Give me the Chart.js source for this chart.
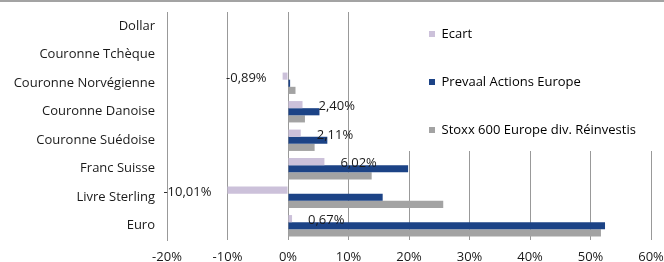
<!DOCTYPE html>
<html>
<head>
<meta charset="utf-8">
<script src="https://cdn.jsdelivr.net/npm/chart.js@4.4.0/dist/chart.umd.min.js"></script>
<style>
html, body { margin: 0; padding: 0; background: #fff; }
#wrap { position: relative; width: 664px; height: 262px; }
#topline { position: absolute; left: 0; top: 0; width: 664px; height: 2px; background: #a3a3a3; }
</style>
</head>
<body>
<div id="wrap">
    <canvas id="myChart" width="664" height="262"></canvas>
    <div id="topline"></div>
</div>
<script>
// donnees (en %)
var devises = ["Dollar", "Couronne Tchèque", "Couronne Norvégienne", "Couronne Danoise",
    "Couronne Suédoise", "Franc Suisse", "Livre Sterling", "Euro"];
var nomsSeries = ["Ecart", "Prevaal Actions Europe", "Stoxx 600 Europe div. Réinvestis"];
var ecart = [null, null, -0.89, 2.40, 2.11, 6.02, -10.01, 0.67];
var prevaal = [null, null, 0.35, 5.2, 6.5, 19.85, 15.65, 52.4];
var stoxx = [null, null, 1.24, 2.8, 4.4, 13.83, 25.66, 51.73];
var xTicks = [-20, -10, 0, 10, 20, 30, 40, 50, 60];
var xTickLabels = ["-20%", "-10%", "0%", "10%", "20%", "30%", "40%", "50%", "60%"];

var police = "'Open Sans', sans-serif";
var taille = 13;
var gris = "#999";

function formatPct(v) {
    return v.toFixed(2).replace(".", ",") + "%";
}

// legende posee dans la zone du graphique, avec fond blanc
var legendeEtEtiquettes = {
    id: "legendeEtEtiquettes",
    afterLayout: function (chart) {
        var lg = chart.legend;
        lg.left = 394;
        lg.top = -7.5;
        lg.right = 664;
        lg.bottom = 200;
    },
    beforeDatasetsDraw: function (chart) {
        var ctx = chart.ctx;
        ctx.save();
        ctx.fillStyle = "#fff";
        ctx.fillRect(375, chart.chartArea.top - 1, 664 - 375, 152 - chart.chartArea.top);
        ctx.restore();
        chart.legend.draw();
    },
    afterDatasetsDraw: function (chart) {
        var ctx = chart.ctx;
        var meta = chart.getDatasetMeta(0);
        ctx.save();
        ctx.font = taille + "px " + police;
        ctx.fillStyle = "#1a1a1a";
        ctx.textBaseline = "middle";
        meta.data.forEach(function (bar, i) {
            var v = ecart[i];
            if (v === null) return;
            if (v >= 0) {
                ctx.textAlign = "left";
                ctx.fillText(formatPct(v), bar.x + 16, bar.y + 2);
            } else {
                ctx.textAlign = "right";
                ctx.fillText(formatPct(v), bar.x - 16, bar.y + 2);
            }
        });
        ctx.restore();
    }
};

document.addEventListener("DOMContentLoaded", iniciar);

function iniciar() {
    var canvas = document.getElementById("myChart");
    if (!canvas) return;

    new Chart(canvas, {
        type: "bar",
        data: {
            labels: devises,
            datasets: [
                { label: nomsSeries[0], data: ecart, backgroundColor: "#ccc1da" },
                { label: nomsSeries[1], data: prevaal, backgroundColor: "#1c4386" },
                { label: nomsSeries[2], data: stoxx, backgroundColor: "#a3a3a3" }
            ]
        },
        options: {
            indexAxis: "y",
            responsive: false,
            maintainAspectRatio: false,
            animation: false,
            categoryPercentage: 0.75,
            barPercentage: 1,
            layout: { padding: { left: 0, top: 12, right: 0, bottom: 0 } },
            plugins: {
                legend: {
                    position: "chartArea",
                    align: "start",
                    labels: {
                        boxWidth: 6,
                        boxHeight: 6,
                        padding: 35,
                        color: "#000",
                        font: { family: police, size: taille }
                    }
                },
                tooltip: { enabled: false }
            },
            scales: {
                x: {
                    min: xTicks[0],
                    max: xTicks[xTicks.length - 1],
                    afterFit: function (scale) {
                        scale.height = 22;
                        scale.paddingLeft = 0;
                        scale.paddingRight = 13;
                    },
                    grid: { color: gris, lineWidth: 1, drawTicks: false },
                    border: { display: false },
                    ticks: {
                        stepSize: 10,
                        padding: 9,
                        color: "#1a1a1a",
                        font: { family: police, size: taille },
                        callback: function (v) { return xTickLabels[xTicks.indexOf(v)]; }
                    }
                },
                y: {
                    afterFit: function (scale) {
                        scale.width = 167;
                        scale.paddingTop = 0;
                        scale.paddingBottom = 0;
                    },
                    grid: { display: false, drawTicks: false },
                    // trait vertical a -20%
                    border: { display: true, color: gris, width: 1 },
                    ticks: {
                        padding: 12,
                        color: "#1a1a1a",
                        font: { family: police, size: taille }
                    }
                }
            }
        },
        plugins: [legendeEtEtiquettes]
    });
}
</script>
</body>
</html>
